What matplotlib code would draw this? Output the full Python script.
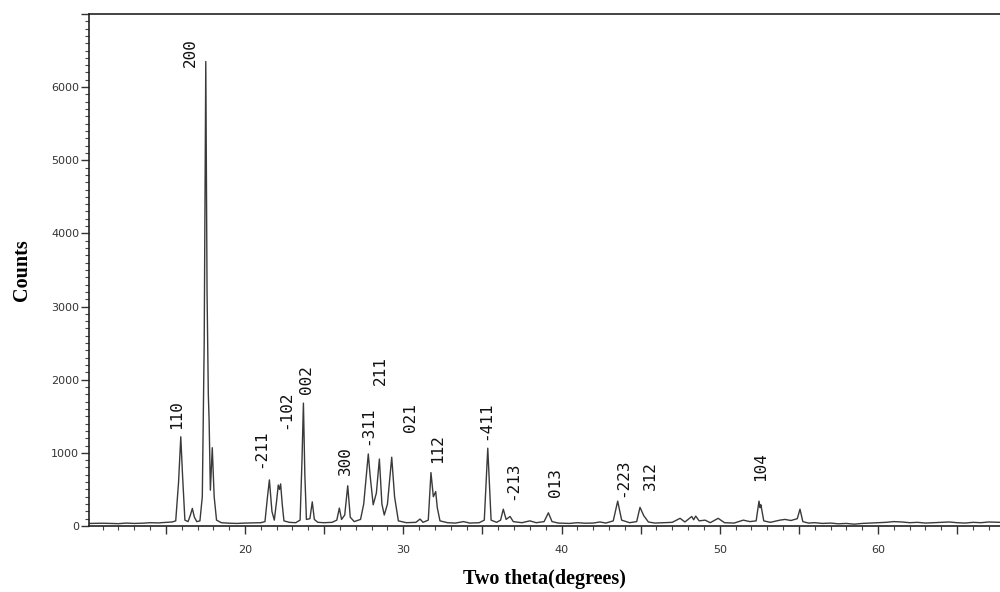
import matplotlib
matplotlib.use("Agg")
import matplotlib.pyplot as plt
from matplotlib.ticker import MultipleLocator, FuncFormatter

# Powder XRD pattern: diffraction angle (2θ, degrees) and intensity (counts)
two_theta = [
    10.2, 11.0, 12.0, 12.5, 13.0, 13.5, 14.0, 14.5, 15.0, 15.4,
    15.62, 15.8, 15.94, 16.05, 16.2, 16.4, 16.55, 16.67, 16.8, 16.95,
    17.15, 17.3, 17.42, 17.52, 17.6, 17.68, 17.73, 17.81, 17.93, 18.05,
    18.2, 18.5, 19.0, 19.5, 20.0, 20.5, 21.0, 21.26, 21.42, 21.54,
    21.7, 21.85, 22.0, 22.1, 22.18, 22.25, 22.35, 22.46, 22.8, 23.2,
    23.48, 23.6, 23.69, 23.78, 23.88, 24.1, 24.25, 24.38, 24.6, 25.0,
    25.5, 25.8, 25.96, 26.1, 26.3, 26.49, 26.65, 26.9, 27.3, 27.5,
    27.79, 27.9, 28.1, 28.3, 28.49, 28.65, 28.8, 29.0, 29.27, 29.45,
    29.69, 30.2, 30.8, 31.06, 31.25, 31.58, 31.75, 31.9, 32.05, 32.15,
    32.32, 32.8, 33.3, 33.8, 34.2, 34.8, 35.12, 35.34, 35.55, 35.9,
    36.15, 36.32, 36.5, 36.75, 36.95, 37.5, 38.0, 38.4, 38.9, 39.17,
    39.4, 39.8, 40.5, 41.0, 41.5, 42.0, 42.43, 42.8, 43.27, 43.55,
    43.8, 44.3, 44.75, 44.96, 45.2, 45.49, 45.9, 46.5, 47.0, 47.49,
    47.8, 48.23, 48.35, 48.48, 48.7, 49.07, 49.4, 49.9, 50.3, 50.9,
    51.49, 51.9, 52.3, 52.48, 52.55, 52.6, 52.78, 53.2, 53.8, 54.12,
    54.5, 54.9, 55.07, 55.25, 55.6, 56.0, 56.5, 57.0, 57.5, 58.0,
    58.5, 59.0, 59.5, 60.0, 60.5, 61.0, 61.5, 62.0, 62.5, 63.0,
    63.5, 64.0, 64.5, 65.0, 65.5, 66.0, 66.5, 67.0, 67.7,
]
counts = [
    35, 38, 32, 40, 35, 38, 45, 42, 50, 55,
    70, 600, 1220, 700, 80, 60, 150, 240, 120, 60,
    70, 400, 2500, 6350, 3200, 1800, 1450, 490, 1070, 400,
    80, 45, 38, 35, 40, 42, 45, 60, 400, 630,
    200, 80, 350, 560, 500, 575, 300, 70, 50, 45,
    80, 900, 1680, 700, 90, 100, 330, 90, 50, 45,
    50, 80, 245, 90, 150, 550, 120, 60, 90, 300,
    985, 700, 290, 450, 915, 300, 150, 300, 940, 400,
    70, 45, 50, 95, 50, 80, 730, 400, 470, 250,
    70, 45, 40, 60, 40, 45, 80, 1063, 80, 50,
    80, 230, 90, 130, 60, 45, 70, 45, 60, 180,
    60, 40, 35, 45, 38, 40, 55, 40, 70, 340,
    80, 45, 60, 255, 140, 55, 40, 45, 50, 105,
    55, 130, 85, 135, 70, 80, 45, 105, 45, 40,
    80, 60, 70, 340, 250, 290, 70, 50, 80, 90,
    75, 100, 230, 60, 40, 45, 35, 40, 30, 35,
    25, 35, 40, 45, 50, 60, 55, 45, 50, 40,
    45, 50, 55, 45, 40, 50, 45, 55, 50,
]

# Miller-index annotations: text, 2θ position, counts position of text base
hkl_text = ["110", "200", "-211", "-102", "002", "300", "-311", "211",
            "021", "112", "-411", "-213", "013", "-223", "312", "104"]
hkl_x = [15.66, 16.52, 20.99, 22.57, 23.90, 26.32, 27.73, 28.53,
         30.47, 32.15, 35.21, 36.94, 39.60, 43.90, 45.60, 52.59]
hkl_y = [1320, 6280, 790, 1330, 1810, 700, 1110, 1930,
         1290, 860, 1180, 360, 400, 400, 490, 620]

fig = plt.figure(figsize=(10, 5.92), dpi=100)
ax = fig.add_axes([0.089, 0.1115, 0.911, 0.8649])

ax.plot(two_theta, counts, color="#3a3a3a", lw=1.0)

for t, x, y in zip(hkl_text, hkl_x, hkl_y):
    ax.text(x, y, t, rotation=90, ha="center", va="bottom",
            fontsize=11.5, family="DejaVu Sans Mono", color="#111111")

ax.set_xlim(10.14, 67.71)
ax.set_ylim(0, 7000)

ax.spines["right"].set_visible(False)
for side in ("left", "top", "bottom"):
    ax.spines[side].set_color("#222222")
    ax.spines[side].set_linewidth(1.2)

ax.xaxis.set_major_locator(MultipleLocator(5))
ax.xaxis.set_minor_locator(MultipleLocator(1))
ax.xaxis.set_major_formatter(FuncFormatter(
    lambda v, p: f"{int(round(v))}" if round(v) % 10 == 0 else ""))
ax.yaxis.set_major_locator(MultipleLocator(1000))
ax.yaxis.set_minor_locator(MultipleLocator(100))
ax.yaxis.set_major_formatter(FuncFormatter(
    lambda v, p: f"{int(round(v))}" if v < 6500 else ""))

ax.tick_params(axis="both", which="major", length=6, width=1.0,
               color="#333333", labelsize=8, labelcolor="#333333")
ax.tick_params(axis="both", which="minor", length=3, width=0.8,
               color="#444444")
ax.tick_params(axis="x", which="major", pad=8)
ax.tick_params(axis="y", which="major", pad=1)

ax.set_xlabel("Two theta(degrees)", family="Liberation Serif",
              fontweight="bold", fontsize=14.5, labelpad=10)
ax.set_ylabel("Counts", family="Liberation Serif",
              fontweight="bold", fontsize=14.5, labelpad=14)

fig.savefig("out.png", dpi=100)
